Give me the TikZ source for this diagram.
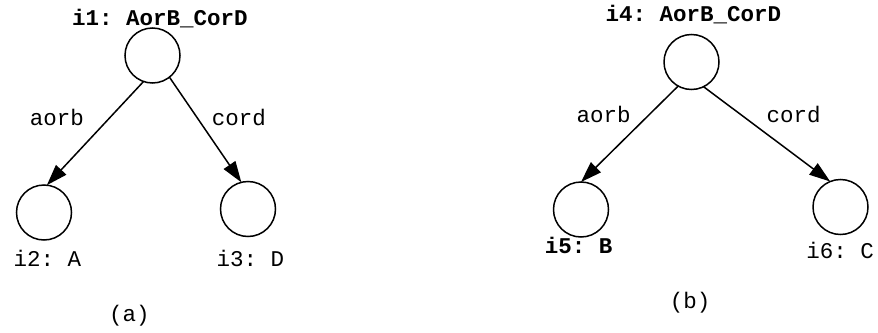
\documentclass[tikz,border=0pt]{standalone}
\usepackage{fontspec}
\setmonofont{Liberation Mono}
\usetikzlibrary{arrows.meta}
\begin{document}
\begin{tikzpicture}[x=1pt,y=-1pt,
  vtx/.style={circle,draw,line width=1.5pt,minimum size=55pt,inner sep=0pt,outer sep=0pt},
  lbl/.style={anchor=base,inner sep=0pt,font=\fontsize{22.5}{26}\selectfont\ttfamily},
  blbl/.style={lbl,font=\fontsize{22.5}{26}\selectfont\ttfamily\bfseries},
  edge/.style={line width=1.5pt,-{Triangle[length=21pt,width=14pt]}}]
\useasboundingbox (0,0) rectangle (878,332);
% tree (a)
\node[vtx] (i1) at (152.5,55.5) {};
\node[vtx] (i2) at (44,212.5) {};
\node[vtx] (i3) at (248,209) {};
\node[blbl] (l1) at (160,25) {i1: AorB\_CorD};
\node[lbl] (l2) at (47.5,266) {i2: A};
\node[lbl] (l3) at (250.5,266) {i3: D};
\draw[edge] (i1.251) -- (i2.84);
\draw[edge] (i1.308) -- (i3.104.5);
\node[lbl] (e1) at (57,125) {aorb};
\node[lbl] (e2) at (239,125) {cord};
\node[lbl] (ca) at (129.5,321) {(a)};
% tree (b)
\node[vtx] (i4) at (691.5,62) {};
\node[vtx] (i5) at (581,209.5) {};
\node[vtx] (i6) at (840.5,207) {};
\node[blbl] (l4) at (693.5,21) {i4: AorB\_CorD};
\node[blbl] (l5) at (578.5,253) {i5: B};
\node[lbl] (l6) at (840,258) {i6: C};
\draw[edge] (i4.241) -- (i5.90);
\draw[edge] (i4.296.6) -- (i6.112.8);
\node[lbl] (e3) at (603.5,122) {aorb};
\node[lbl] (e4) at (793.5,122) {cord};
\node[lbl] (cb) at (690,308) {(b)};
\end{tikzpicture}
\end{document}
